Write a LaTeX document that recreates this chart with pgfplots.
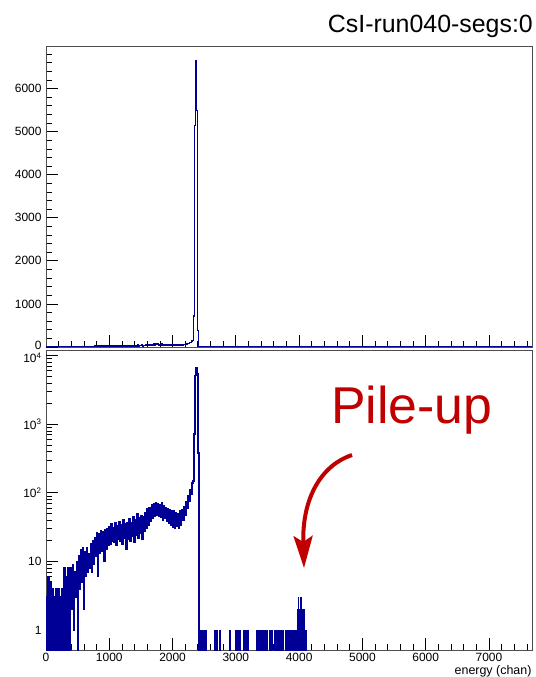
\documentclass[border=0pt]{standalone}
\usepackage{fontspec}
\setmainfont{Liberation Sans}
\usepackage{pgfplots}
\usepackage{pgfplotstable}
\pgfplotsset{compat=1.18}
\usetikzlibrary{arrows.meta}

\definecolor{histblue}{RGB}{0,0,150}
\definecolor{pileup}{RGB}{192,0,0}

% CsI spectrum (bin left edge, counts); runs of equal bins are merged
\pgfplotstableread{
ch n
0 3
16 0
32 6
48 0
64 5
80 0
96 4
112 0
128 3
144 0
160 4
176 0
192 4
208 0
224 3
240 0
256 4
272 0
288 8
304 0
320 6
336 0
352 8
368 0
384 8
400 2
416 9
432 1
448 7
464 3
480 10
496 0
512 12
528 4
544 15
560 5
576 16
592 2
608 14
624 6
640 16
656 7
672 13
688 8
704 18
720 7
736 20
752 9
768 22
784 12
800 26
816 6
832 25
848 13
864 28
880 14
896 27
912 10
928 29
944 15
960 30
976 17
992 32
1008 18
1024 35
1040 20
1056 31
1072 19
1088 36
1104 17
1120 33
1136 21
1152 38
1168 20
1184 34
1200 18
1216 40
1232 22
1248 35
1264 15
1280 37
1296 21
1312 42
1328 20
1344 36
1360 23
1376 44
1392 19
1408 40
1424 24
1440 50
1456 22
1472 43
1488 26
1504 47
1520 21
1536 45
1552 28
1568 52
1584 30
1600 58
1616 34
1632 60
1648 38
1664 66
1680 42
1696 70
1712 45
1728 72
1744 48
1760 70
1776 46
1792 68
1808 44
1824 72
1840 40
1856 64
1872 42
1888 60
1904 38
1920 58
1936 36
1952 56
1968 34
1984 55
2000 32
2016 54
2032 30
2048 52
2064 33
2080 50
2096 30
2112 55
2128 34
2144 56
2160 40
2176 62
2192 48
2208 75
2224 60
2240 90
2256 75
2272 110
2288 95
2304 140
2320 150
2336 720
2352 5150
2368 6650
2384 5500
2400 380
2416 0
2432 1
2440 0
2448 1
2456 0
2464 1
2472 0
2488 1
2496 0
2504 1
2512 0
2520 1
2528 0
2536 1
2544 0
2656 1
2672 0
2688 1
2704 0
2736 1
2752 0
2896 1
2912 0
2992 1
3008 0
3024 1
3040 0
3056 1
3072 0
3120 1
3136 0
3152 1
3168 0
3184 1
3200 0
3328 1
3344 0
3360 1
3376 0
3392 1
3408 0
3424 1
3440 0
3456 1
3472 0
3488 1
3504 0
3536 1
3552 0
3568 1
3584 0
3616 1
3632 0
3648 1
3664 0
3680 1
3696 0
3712 1
3728 0
3744 1
3760 0
3792 1
3800 0
3808 1
3816 0
3824 1
3832 0
3840 1
3848 0
3856 1
3864 0
3872 1
3880 0
3888 1
3896 0
3904 1
3912 0
3920 1
3928 0
3936 1
3944 0
3952 1
3960 0
3968 2
3976 0
3984 3
3992 0
4000 2
4008 0
4016 3
4024 0
4032 3
4040 0
4048 2
4056 0
4064 2
4072 0
4080 2
4088 0
4096 1
4104 0
4112 1
4120 0
7680 0
}\spec

\pgfplotsset{
  rootframe/.style={
    scale only axis, width=486bp,
    xmin=0, xmax=7680,
    axis line style={black!70, line width=0.8bp},
    every tick/.style={black, line width=0.8bp},
    major tick length=12bp, minor tick length=6bp,
    tick align=inside, xtick pos=bottom, ytick pos=left,
    xtick={0,1000,...,7000}, minor xtick={200,400,...,7600},
    /pgf/number format/assume math mode=true,
    /pgf/number format/1000 sep={},
    tick label style={font=\fontsize{12}{13}\selectfont},
    yticklabel style={xshift=-1bp},
  },
  histline/.style={color=histblue, const plot mark left, no marks},
}

\begin{document}
\begin{tikzpicture}
\path[use as bounding box] (0,0) rectangle (536bp,677bp);

% linear pad
\begin{axis}[rootframe, at={(46bp,330bp)}, anchor=south west, height=301bp,
  ymin=0, ymax=6990,
  ytick={1000,2000,...,6000}, minor ytick={200,400,...,6800},
  extra y ticks={0}, extra y tick style={yticklabel style={yshift=2bp}},
  xticklabels={}]
\addplot[histline, line width=1.1bp] table[x=ch, y=n] {\spec};
\end{axis}

% log pad
\begin{axis}[rootframe, at={(46bp,27bp)}, anchor=south west, height=300bp,
  ymode=log, ymin=0.511, ymax=12100,
  ytick={1,10,100,1000},
  yticklabels={1,10,10\textsuperscript{2},10\textsuperscript{3}},
  extra y ticks={10000}, extra y tick labels={10\textsuperscript{4}},
  extra y tick style={yticklabel style={yshift=-2bp}},
  minor ytick={0.6,0.7,0.8,0.9,2,3,4,5,6,7,8,9,20,30,40,50,60,70,80,90,200,300,400,500,600,700,800,900,2000,3000,4000,5000,6000,7000,8000,9000},
  xlabel={energy (chan)},
  x label style={at={(axis description cs:1,0)}, anchor=north east,
    yshift=-12bp, xshift=3bp, font=\fontsize{12.5}{14}\selectfont}]
% noisy continuum and photopeak
\addplot[histline, line width=1.6bp, restrict x to domain=0:2416]
  table[x=ch, y expr={max(\thisrow{n},0.01)}] {\spec};
% single counts and pile-up above the photopeak
\addplot[histline, line width=1bp, restrict x to domain=2416:7680]
  table[x=ch, y expr={max(\thisrow{n},0.01)}] {\spec};
\end{axis}

\node[anchor=base east, font=\fontsize{25}{28}\selectfont, inner sep=0pt]
  at (533bp,644.7bp) {CsI-run040-segs:0};
\node[anchor=base west, font=\fontsize{52}{56}\selectfont, text=pileup, inner sep=0pt]
  at (331bp,253bp) {Pile-up};
\draw[pileup, line width=4bp, -{Stealth[length=32bp,width=19bp,inset=6bp]}]
  (352bp,222bp) .. controls (322bp,212bp) and (302bp,180bp) .. (304bp,109bp);
\end{tikzpicture}
\end{document}
